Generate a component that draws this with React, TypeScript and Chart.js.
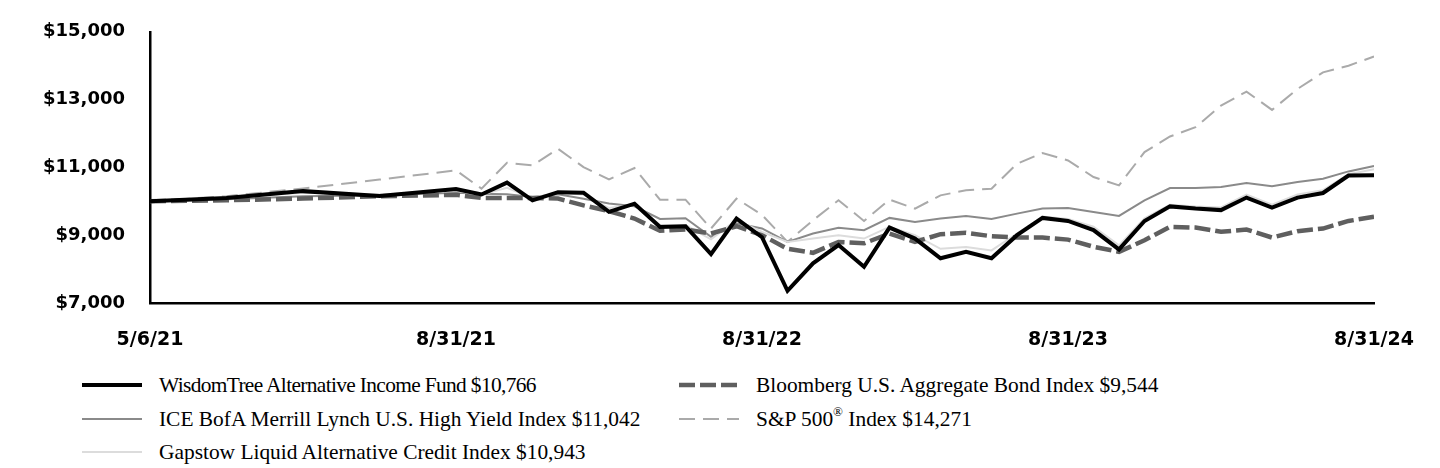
import React, { useEffect, useRef } from "react";
import { Chart, registerables } from "chart.js";

Chart.register(...registerables);

// x positions (period index; 12 periods between labelled dates)
const periodIndex = [0, 3, 6, 9, 12, 13, 14, 15, 16, 17, 18, 19, 20, 21, 22, 23, 24, 25, 26, 27, 28, 29, 30, 31, 32, 33, 34, 35, 36, 37, 38, 39, 40, 41, 42, 43, 44, 45, 46, 47, 48];
const tickPositions = [0, 12, 24, 36, 48];
const tickLabels = ["5/6/21", "8/31/21", "8/31/22", "8/31/23", "8/31/24"];

const fundValues = [10000, 10097, 10300, 10160, 10360, 10200, 10550, 10030, 10270, 10255, 9690, 9930, 9245, 9265, 8440, 9490, 8940, 7360, 8170, 8710, 8070, 9225, 8900, 8320, 8510, 8320, 9000, 9510, 9420, 9150, 8580, 9420, 9850, 9785, 9740, 10110, 9815, 10110, 10245, 10760, 10766];
const iceValues = [10000, 10060, 10150, 10180, 10250, 10226, 10206, 10127, 10206, 10078, 9932, 9853, 9480, 9500, 8950, 9350, 9200, 8803, 9049, 9216, 9147, 9510, 9392, 9490, 9569, 9480, 9637, 9785, 9804, 9686, 9569, 10029, 10392, 10392, 10422, 10539, 10441, 10569, 10667, 10882, 11042];
const gapstowValues = [10000, 10100, 10250, 10200, 10300, 10200, 10400, 10100, 10250, 10200, 9800, 9900, 9300, 9300, 8880, 9450, 9100, 8800, 8900, 9000, 8900, 9250, 9000, 8600, 8650, 8550, 9050, 9550, 9480, 9250, 8700, 9500, 9900, 9850, 9820, 10200, 9900, 10200, 10330, 10800, 10943];
const bloombergValues = [10000, 10030, 10080, 10150, 10190, 10100, 10100, 10100, 10080, 9880, 9710, 9490, 9130, 9170, 9050, 9265, 9000, 8600, 8480, 8800, 8760, 9050, 8800, 9030, 9070, 8970, 8930, 8930, 8870, 8660, 8510, 8850, 9245, 9226, 9100, 9167, 8930, 9118, 9196, 9420, 9544];
const spValues = [10000, 10150, 10380, 10640, 10912, 10373, 11137, 11059, 11549, 11010, 10647, 10980, 10049, 10049, 9196, 10078, 9600, 8803, 9441, 10029, 9421, 10049, 9784, 10176, 10324, 10373, 11108, 11422, 11206, 10716, 10471, 11451, 11912, 12186, 12824, 13235, 12696, 13314, 13804, 14000, 14271];

const seriesNames = [
  "WisdomTree Alternative Income Fund $10,766",
  "ICE BofA Merrill Lynch U.S. High Yield Index $11,042",
  "Gapstow Liquid Alternative Credit Index $10,943",
  "Bloomberg U.S. Aggregate Bond Index $9,544",
  "S&P 500",
];

const toPoints = (vals: number[]) => vals.map((v, i) => ({ x: periodIndex[i], y: v }));

function LegendItem(props: { left: number; top: number; color: string; width: number; dash?: string; spacing?: number; children: React.ReactNode }) {
  const { left, top, color, width, dash, spacing, children } = props;
  return (
    <div style={{ position: "absolute", left, top, height: 30, display: "flex", alignItems: "center" }}>
      <svg width={62} height={10} style={{ display: "block" }}>
        <line x1={1} y1={5} x2={61} y2={5} stroke={color} strokeWidth={width} strokeDasharray={dash} />
      </svg>
      <span style={{ marginLeft: 16, fontFamily: "'Liberation Serif', 'Times New Roman', serif", fontSize: 21.4, letterSpacing: spacing || 0, color: "#000", whiteSpace: "nowrap" }}>
        {children}
      </span>
    </div>
  );
}

export default function App() {
  const canvasRef = useRef<HTMLCanvasElement | null>(null);

  useEffect(() => {
    if (!canvasRef.current) return;
    const chart = new Chart(canvasRef.current, {
      type: "line",
      data: {
        datasets: [
          { label: seriesNames[0], data: toPoints(fundValues), borderColor: "#000000", borderWidth: 4, pointRadius: 0, order: 0, tension: 0 },
          { label: seriesNames[3], data: toPoints(bloombergValues), borderColor: "#5f5f5f", borderWidth: 4.5, borderDash: [16, 5], pointRadius: 0, order: 1, tension: 0 },
          { label: seriesNames[2], data: toPoints(gapstowValues), borderColor: "#dcdcdc", borderWidth: 2, pointRadius: 0, order: 2, tension: 0 },
          { label: seriesNames[1], data: toPoints(iceValues), borderColor: "#8a8a8a", borderWidth: 2, pointRadius: 0, order: 3, tension: 0 },
          { label: seriesNames[4], data: toPoints(spValues), borderColor: "#aaaaaa", borderWidth: 2, borderDash: [16, 8], pointRadius: 0, order: 4, tension: 0 },
        ],
      },
      options: {
        animation: false,
        responsive: false,
        devicePixelRatio: 1,
        layout: { padding: { left: 0, right: 64, top: 31, bottom: 0 } },
        plugins: { legend: { display: false }, tooltip: { enabled: false } },
        scales: {
          x: {
            type: "linear",
            min: 0,
            max: 48,
            grid: { display: false, drawTicks: false },
            border: { display: true, color: "#000000", width: 2.5 },
            afterBuildTicks: (axis: any) => {
              axis.ticks = tickPositions.map((v) => ({ value: v }));
            },
            afterFit: (axis: any) => {
              axis.height = 57;
            },
            ticks: {
              padding: 26,
              maxRotation: 0,
              autoSkip: false,
              color: "#000000",
              font: { family: "'DejaVu Sans', sans-serif", weight: "bold", size: 19 },
              callback: (v: any) => {
                const i = tickPositions.indexOf(Number(v));
                return i >= 0 ? tickLabels[i] : "";
              },
            },
          },
          y: {
            min: 7000,
            max: 15000,
            grid: { display: false, drawTicks: false },
            border: { display: true, color: "#000000", width: 2.5 },
            afterFit: (axis: any) => {
              axis.width = 150;
            },
            ticks: {
              stepSize: 2000,
              padding: 25,
              color: "#000000",
              font: { family: "'DejaVu Sans', sans-serif", weight: "bold", size: 18 },
              callback: (v: any) => "$" + Number(v).toLocaleString("en-US"),
            },
          },
        },
      },
    } as any);
    return () => chart.destroy();
  }, []);

  return (
    <div style={{ position: "fixed", left: 0, top: 0, width: 1440, height: 468, background: "#ffffff", overflow: "hidden" }}>
      <canvas ref={canvasRef} width={1440} height={364} style={{ position: "absolute", left: 0, top: -4, width: 1440, height: 364 }} />
      <LegendItem left={81} top={370} color="#000000" width={4} spacing={-0.65}>{seriesNames[0]}</LegendItem>
      <LegendItem left={81} top={404} color="#8a8a8a" width={2}>{seriesNames[1]}</LegendItem>
      <LegendItem left={81} top={437} color="#dcdcdc" width={2}>{seriesNames[2]}</LegendItem>
      <LegendItem left={678} top={370} color="#5f5f5f" width={4.5} dash="16 5">{seriesNames[3]}</LegendItem>
      <LegendItem left={678} top={404} color="#aaaaaa" width={2} dash="16 8">
        <>S&amp;P 500<sup style={{ fontSize: 13, verticalAlign: "top", position: "relative", top: -3 }}>®</sup> Index $14,271</>
      </LegendItem>
    </div>
  );
}
